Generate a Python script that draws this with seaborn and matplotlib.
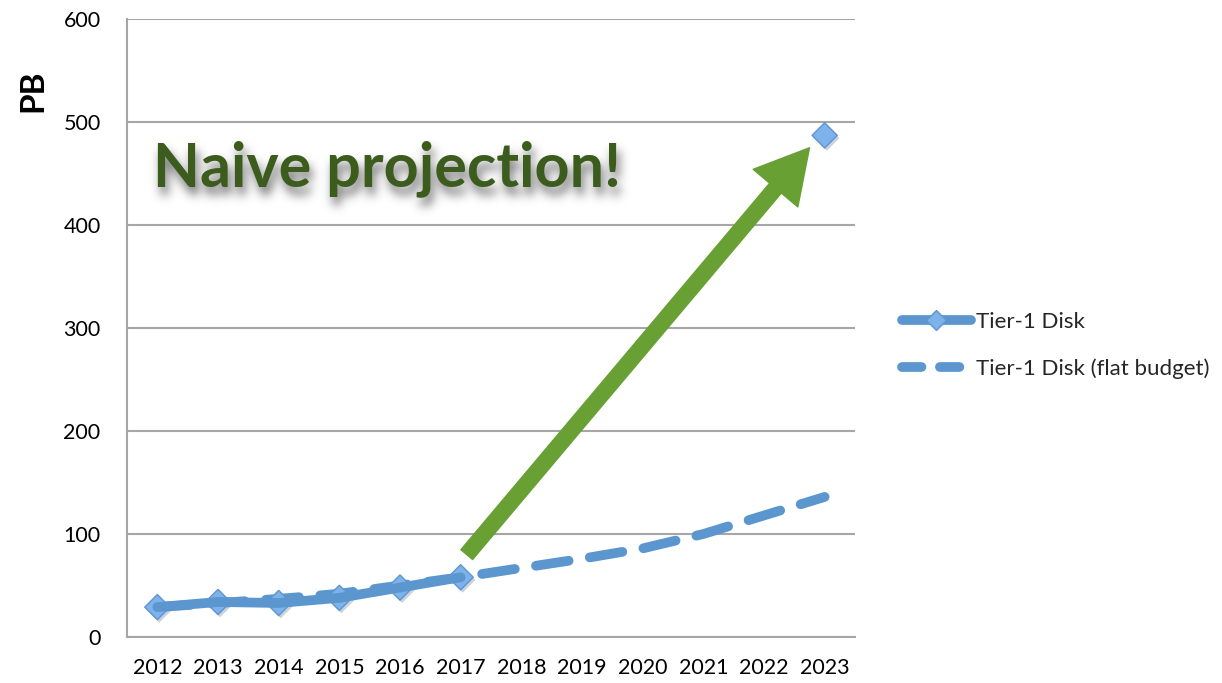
import numpy as np
import pandas as pd
import matplotlib
matplotlib.use("Agg")
import matplotlib.pyplot as plt
import matplotlib.patheffects as pe
from matplotlib.lines import Line2D
from matplotlib.patches import FancyArrowPatch
import seaborn as sns

# --- data -------------------------------------------------------------
years = list(range(2012, 2024))
tier1_disk = [29, 34, 33, 38, 48, 58, np.nan, np.nan, np.nan, np.nan, np.nan, 487]
tier1_flat_budget = [29, 33, 37, 42, 50, 58, 67, 76, 86, 100, 118, 136]
series_names = ["Tier-1 Disk", "Tier-1 Disk (flat budget)"]
y_ticks = [0, 100, 200, 300, 400, 500, 600]
annotation_text = "Naive projection!"
annotation_pos = (2011.93, 455)
arrow_start = (2017.1, 80)
arrow_end = (2022.75, 475)

# --- style ------------------------------------------------------------
sns.set_theme(style="white")
plt.rcParams["font.family"] = ["Lato", "DejaVu Sans"]

BLUE = "#5b96cf"
MARKER_FACE = "#7db2ea"
MARKER_EDGE = "#5f95d0"
GREEN = "#68a034"
DARK_GREEN = "#3c5c1e"
GRID = "#a6a6a6"

FIGSIZE = (12.22, 6.83)
DPI = 100
AX_RECT = [127 / 1222, 46 / 683, 728 / 1222, 618 / 683]
XLIM = (2011.5, 2023.5)
YLIM = (0, 600)
TEXT_KW = dict(ha="left", va="center", fontsize=44, fontweight="bold")

fig = plt.figure(figsize=FIGSIZE, dpi=DPI)
ax = fig.add_axes(AX_RECT)

df = pd.DataFrame({"year": years, "disk": tier1_disk, "flat": tier1_flat_budget})
measured = df.dropna(subset=["disk"])
contiguous = measured[measured["year"] <= 2017]

# flat-budget projection (dashed)
sns.lineplot(data=df, x="year", y="flat", ax=ax, color=BLUE, linewidth=7.0,
             zorder=3, legend=False)
dash_line = ax.lines[-1]
dash_line.set_dashes((3.4, 2.2))
dash_line.set_dash_capstyle("round")

# diamond markers under the solid line
sns.scatterplot(data=measured, x="year", y="disk", ax=ax, marker="D", s=165,
                color=MARKER_FACE, edgecolor=MARKER_EDGE, linewidth=1.0,
                zorder=4, legend=False,
                path_effects=[pe.SimplePatchShadow(offset=(1.5, -2), alpha=0.25,
                                                   shadow_rgbFace="#30507a"),
                              pe.Normal()])

# measured series (solid)
sns.lineplot(data=contiguous, x="year", y="disk", ax=ax, color=BLUE,
             linewidth=7.0, zorder=5, legend=False)
ax.lines[-1].set_solid_capstyle("round")

# --- axes -------------------------------------------------------------
ax.set_xlim(*XLIM)
ax.set_ylim(*YLIM)
ax.set_xticks(years)
ax.set_xticklabels([str(y) for y in years])
ax.set_yticks(y_ticks)
ax.yaxis.grid(True, color=GRID, linewidth=1.5)
ax.xaxis.grid(False)
ax.set_axisbelow(True)
for side in ["top", "right"]:
    ax.spines[side].set_visible(False)
for side in ["left", "bottom"]:
    ax.spines[side].set_color(GRID)
    ax.spines[side].set_linewidth(1.5)
ax.tick_params(axis="both", length=0, labelsize=15.5, colors="black")
ax.tick_params(axis="y", pad=19)
ax.tick_params(axis="x", pad=15)
ax.set_xlabel("")
ax.set_ylabel("")
fig.text(33 / 1222, 1 - 91 / 683, "PB", rotation=90, ha="center", va="center",
         fontsize=24, fontweight="bold", color="black")

# --- annotation arrow -------------------------------------------------
arrow = FancyArrowPatch(arrow_start, arrow_end,
                        arrowstyle="simple,head_length=3.8,head_width=4.2,tail_width=1.1",
                        mutation_scale=10, color=GREEN, zorder=6,
                        shrinkA=0, shrinkB=0)
ax.add_patch(arrow)


# --- soft drop shadow behind the annotation text ---------------------
def gaussian_blur(img, sigma):
    radius = int(3 * sigma)
    xs = np.arange(-radius, radius + 1)
    kernel = np.exp(-0.5 * (xs / sigma) ** 2)
    kernel /= kernel.sum()
    out = np.apply_along_axis(lambda r: np.convolve(r, kernel, mode="same"), 1, img)
    out = np.apply_along_axis(lambda c: np.convolve(c, kernel, mode="same"), 0, out)
    return out


sfig = plt.figure(figsize=FIGSIZE, dpi=DPI)
sfig.patch.set_alpha(0)
sax = sfig.add_axes(AX_RECT)
sax.set_xlim(*XLIM)
sax.set_ylim(*YLIM)
sax.axis("off")
sax.patch.set_alpha(0)
sax.text(*annotation_pos, annotation_text, color="black", **TEXT_KW)
sfig.canvas.draw()
mask = np.asarray(sfig.canvas.buffer_rgba())[..., 3].astype(float) / 255.0
plt.close(sfig)

dx, dy = 3, 8
mask = np.roll(np.roll(mask, dy, axis=0), dx, axis=1)
mask = gaussian_blur(mask, 5.0)
H, W = mask.shape
x0 = int(round(AX_RECT[0] * W))
x1 = int(round((AX_RECT[0] + AX_RECT[2]) * W))
y1 = H - int(round(AX_RECT[1] * H))
y0 = H - int(round((AX_RECT[1] + AX_RECT[3]) * H))
crop = mask[y0:y1, x0:x1]
shadow_rgba = np.zeros(crop.shape + (4,))
shadow_rgba[..., :3] = 0.25
shadow_rgba[..., 3] = np.clip(crop * 0.75, 0, 1)
ax.imshow(shadow_rgba, extent=(XLIM[0], XLIM[1], YLIM[0], YLIM[1]),
          origin="upper", aspect="auto", interpolation="bilinear", zorder=6.5)
ax.set_xlim(*XLIM)
ax.set_ylim(*YLIM)

ax.text(*annotation_pos, annotation_text, color=DARK_GREEN, zorder=7, **TEXT_KW)

# --- legend -----------------------------------------------------------
handles = [
    Line2D([0], [0], color=BLUE, linewidth=7.0, solid_capstyle="round",
           marker="D", markersize=10, markerfacecolor=MARKER_FACE,
           markeredgecolor=MARKER_EDGE),
    Line2D([0], [0], color=BLUE, linewidth=7.0, dashes=(2.0, 1.9),
           dash_capstyle="round"),
]
ax.legend(handles, series_names, loc="center left", bbox_to_anchor=(1.037, 0.472),
          frameon=False, fontsize=16, handlelength=3.1, handletextpad=0.22,
          labelspacing=1.2)

fig.savefig("out.png", dpi=DPI)
